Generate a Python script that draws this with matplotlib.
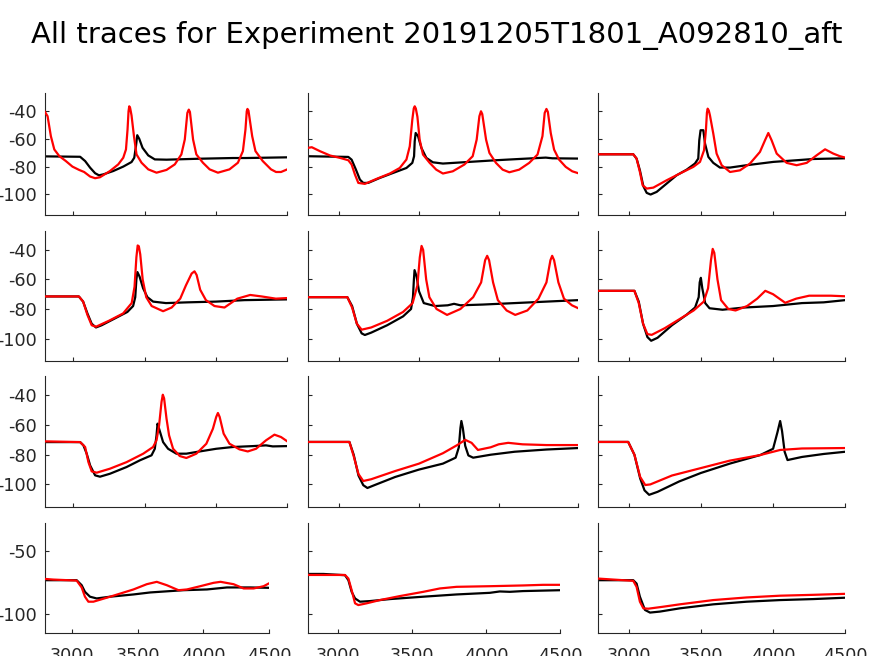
import matplotlib
matplotlib.use("Agg")
import matplotlib.pyplot as plt

plt.rcParams["axes.unicode_minus"] = False

title_text = "All traces for Experiment 20191205T1801_A092810_aft"

# ---- data: (time, voltage) pairs ----
exp_r1c1 = [(2800,-72.6),(3049,-72.9),(3084,-76),(3119,-80.8),(3154,-84.8),(3181,-86.3),(3212,-85.6),
            (3281,-83.2),(3351,-80),(3409,-76.7),(3428,-73.6),(3440,-65.2),(3449,-57.3),(3463,-59.9),
            (3486,-66.4),(3526,-71.9),(3572,-74.8),(3654,-75),(3886,-74.3),(4119,-73.8),(4212,-73.8),(4500,-73.3)]
mod_r1c1 = [(2800,-40),(2821,-43.6),(2844,-58),(2868,-67.6),(2903,-72.4),(2949,-76),(2995,-80),(3042,-82.4),
            (3077,-83.9),(3119,-87.2),(3154,-88.4),(3188,-87.7),(3258,-83.2),(3316,-78.4),(3351,-73.6),
            (3370,-67.6),(3381,-53.2),(3388,-40),(3393,-36.4),(3399,-37.5),(3409,-43),(3426,-58),(3444,-71.2),(3479,-77.2),
            (3526,-82),(3584,-84.4),(3654,-82.4),(3712,-78.4),(3758,-71.2),(3782,-60.4),(3800,-41.2),
            (3810,-38.8),(3818,-40.5),(3840,-60.4),(3863,-71.2),(3909,-77.2),(3956,-82),(4014,-84.4),
            (4095,-82),(4154,-77.2),(4189,-68.8),(4207,-53.2),(4216,-40),(4221,-38.3),(4228,-39.5),(4254,-58),
            (4277,-68.8),(4328,-76),(4386,-82),(4421,-83.9),(4456,-83.9),(4500,-82)]

exp_r1c2 = [(2800,-72.5),(3056,-73),(3077,-75),(3104,-82.2),(3129,-89.4),(3150,-91.8),(3181,-91.8),
            (3254,-88.2),(3337,-84.6),(3421,-81),(3458,-77.3),(3469,-72.5),(3473,-61.7),(3479,-55.7),
            (3494,-58),(3515,-66.5),(3546,-73.7),(3587,-76.9),(3650,-77.8),(3775,-76.9),(3983,-75.4),
            (4129,-74.5),(4296,-73.5),(4337,-74),(4500,-74.2)]
mod_r1c2 = [(2800,-66.5),(2827,-66),(2879,-68.9),(2942,-72),(3004,-73.7),(3056,-75.4),(3077,-78.5),
            (3098,-85.8),(3119,-91.8),(3160,-92.5),(3233,-88.9),(3317,-85),(3379,-81),(3421,-74.9),
            (3442,-65.3),(3458,-46),(3467,-38),(3473,-36.4),(3480,-38),(3490,-44),(3504,-60.5),(3525,-71.3),(3567,-77.3),
            (3608,-82.2),(3650,-85),(3712,-83.4),(3785,-78.5),(3837,-72.5),(3862,-60.5),(3879,-43.6),
            (3889,-40),(3897,-42),(3921,-60.5),(3942,-70.1),(3983,-77.3),(4025,-82.2),(4067,-84.1),
            (4129,-82.2),(4192,-77.3),(4244,-71.3),(4275,-58),(4289,-41.2),(4300,-38.3),(4309,-40.5),
            (4327,-55.7),(4348,-67.7),(4379,-74.9),(4421,-80.2),(4462,-83.4),(4500,-84.8)]

exp_r1c3 = [(2790,-71.1),(3032,-71.1),(3055,-74.2),(3078,-82.7),(3102,-94.2),(3125,-99),(3152,-100.2),
            (3194,-98.3),(3263,-92.3),(3332,-86.3),(3402,-82.2),(3459,-77.8),(3482,-74.2),(3489,-61),
            (3498,-53.7),(3517,-53.7),(3529,-63.4),(3552,-73),(3586,-77.3),(3632,-80.7),(3702,-80.7),
            (3817,-79),(4002,-76.6),(4163,-75.4),(4279,-74.5),(4500,-74)]
mod_r1c3 = [(2790,-71.1),(3032,-71.1),(3055,-74.2),(3078,-83.9),(3097,-93.5),(3125,-95.9),(3171,-95.2),
            (3263,-89.9),(3355,-85),(3448,-80.2),(3494,-76.6),(3522,-68.2),(3535,-53.7),(3542,-41),(3547,-38.1),
            (3555,-39.5),(3563,-43),(3586,-56.1),(3609,-70.6),(3644,-79),(3702,-83.9),(3771,-82.7),(3840,-77.8),
            (3909,-69.4),(3944,-61),(3967,-55.7),(3990,-61),(4025,-70.6),(4094,-77.3),(4163,-79),
            (4233,-77.3),(4302,-71.8),(4360,-67.5),(4417,-70.6),(4463,-72.5),(4500,-73.5)]

exp_r2c1 = [(2800,-71.5),(3040,-71.5),(3070,-75),(3100,-83),(3130,-90),(3160,-92.5),(3200,-91),
            (3300,-86),(3380,-82),(3420,-78),(3435,-72),(3443,-60),(3450,-55),(3465,-58),(3490,-66),
            (3520,-72),(3560,-75),(3650,-76),(3800,-75.5),(4000,-75),(4200,-74),(4500,-73.5)]
mod_r2c1 = [(2800,-71.5),(3040,-71.5),(3070,-75),(3100,-84),(3130,-91),(3160,-92),(3250,-88),
            (3350,-83),(3410,-76),(3430,-65),(3443,-45),(3452,-37),(3460,-37.5),(3470,-43),(3487,-60),
            (3512,-72),(3550,-78),(3630,-81.5),(3690,-79),(3750,-73),(3790,-64),(3830,-56),(3850,-54.5),
            (3865,-57),(3890,-67),(3930,-74),(3990,-78),(4060,-79),(4150,-73),(4240,-70.5),(4320,-71.5),
            (4420,-73),(4500,-72.6)]

exp_r2c2 = [(2800,-72),(3050,-72),(3080,-78),(3110,-90),(3140,-96.5),(3160,-97.6),(3200,-96),
            (3300,-91),(3400,-85),(3450,-80),(3462,-72),(3468,-60),(3472,-53.7),(3485,-58),(3500,-68),
            (3530,-76),(3600,-78),(3680,-77.5),(3720,-76.5),(3760,-77.5),(3900,-77),(4100,-76),
            (4300,-75),(4500,-74)]
mod_r2c2 = [(2800,-72),(3050,-72),(3080,-79),(3110,-90),(3140,-94),(3200,-92.5),(3300,-88),
            (3400,-82),(3460,-76),(3490,-64),(3505,-45),(3516,-37.3),(3526,-40),(3545,-60),(3565,-72),
            (3610,-80),(3676,-84),(3760,-80),(3840,-72),(3890,-62),(3915,-47),(3928,-44),(3940,-47),
            (3965,-62),(3995,-74),(4050,-81),(4104,-84),(4180,-81),(4250,-73),(4300,-62),(4325,-47),
            (4336,-44),(4348,-47),(4375,-62),(4410,-73),(4460,-77.5),(4500,-79.5)]

exp_r2c3 = [(2790,-67.7),(3040,-67.7),(3070,-75),(3100,-90),(3130,-99),(3156,-101.5),(3200,-99.5),
            (3300,-91),(3400,-84),(3460,-79),(3485,-72),(3492,-62),(3500,-58.9),(3510,-66),(3530,-76),
            (3560,-79.5),(3650,-80.5),(3800,-79),(4000,-78),(4200,-76),(4350,-75.5),(4500,-74)]
mod_r2c3 = [(2790,-67.7),(3040,-67.7),(3070,-76),(3100,-90),(3130,-97),(3160,-97.5),(3250,-93),
            (3350,-87),(3450,-81),(3520,-75),(3550,-66),(3570,-47),(3582,-39.3),(3593,-42),(3615,-60),
            (3640,-74),(3690,-80),(3740,-81),(3820,-78),(3890,-73),(3946,-67.7),(4000,-70),(4084,-75.8),
            (4160,-73),(4250,-71),(4400,-71),(4500,-71.4)]

exp_r3c1 = [(2800,-71.5),(3049,-71.5),(3072,-73.7),(3095,-79.3),(3119,-87.2),(3154,-93.9),(3188,-94.8),
            (3258,-92.8),(3374,-88.3),(3467,-83.8),(3549,-80.4),(3572,-76),(3584,-67),(3591,-59.1),
            (3602,-62.5),(3630,-71.5),(3665,-76),(3723,-79.3),(3793,-79.3),(3886,-77.8),(4002,-76),
            (4119,-74.8),(4258,-74.2),(4351,-73.7),(4398,-74.4),(4500,-74.2)]
mod_r3c1 = [(2800,-71),(3049,-71.5),(3084,-74.8),(3107,-85),(3130,-91.2),(3165,-92.1),(3258,-89.4),
            (3374,-85),(3491,-79.3),(3560,-74.8),(3584,-70.3),(3602,-60.2),(3619,-44.5),(3628,-39.6),
            (3637,-42),(3654,-55.7),(3672,-67),(3700,-76),(3747,-80.9),(3793,-82.2),(3863,-79.3),
            (3933,-72.6),(3979,-62.5),(4002,-54.6),(4014,-51.9),(4026,-54.5),(4054,-65.8),(4095,-72.6),
            (4165,-76.4),(4223,-77.8),(4281,-76),(4351,-70.3),(4410,-66.5),(4456,-68.1),(4500,-71)]

exp_r3c2 = [(2800,-71.4),(3063,-71.4),(3090,-80),(3120,-94),(3150,-100.5),(3176,-102.4),(3220,-100.5),
            (3350,-95),(3500,-90),(3650,-86),(3730,-82),(3750,-75),(3760,-62),(3766,-57.3),(3775,-62),
            (3790,-74),(3810,-80.5),(3840,-82),(3950,-80),(4100,-78),(4300,-76.5),(4500,-75.5)]
mod_r3c2 = [(2800,-71.4),(3063,-71.4),(3090,-81),(3120,-93),(3150,-97.7),(3200,-96.5),(3350,-91),
            (3500,-86),(3650,-79),(3740,-73.5),(3790,-70),(3830,-72),(3870,-76.8),(3950,-75),
            (4000,-73),(4060,-72),(4150,-73),(4300,-73.5),(4500,-73.5)]

exp_r3c3 = [(2790,-71.4),(2997,-71.4),(3040,-80),(3080,-96),(3110,-104),(3142,-107),(3200,-105),
            (3350,-98),(3500,-92.3),(3700,-86),(3912,-80.2),(4000,-76),(4030,-65),(4049,-57.3),
            (4062,-64),(4080,-78),(4100,-83.6),(4200,-81.5),(4350,-79.5),(4500,-78)]
mod_r3c3 = [(2790,-71.4),(2997,-71.4),(3040,-80),(3080,-95),(3115,-100.4),(3150,-100),(3300,-94),
            (3500,-89),(3700,-84),(3912,-80.2),(4049,-76.8),(4200,-75.8),(4500,-75.5)]

exp_r4c1 = [(2800,-73),(3038,-73),(3076,-77),(3101,-82.3),(3139,-86.2),(3190,-87.6),(3292,-86.2),
            (3469,-84.4),(3596,-82.8),(3849,-81),(4027,-80.4),(4179,-78.8),(4356,-78.8),(4500,-79.1)]
mod_r4c1 = [(2800,-72),(2861,-72.5),(3038,-73.3),(3076,-78.8),(3101,-86.2),(3127,-90.2),(3165,-90.2),
            (3292,-86.2),(3469,-80.4),(3570,-76.2),(3646,-74.3),(3722,-77),(3811,-81),(3875,-80.4),
            (3976,-77.8),(4077,-75.1),(4130,-74.3),(4229,-76.2),(4305,-79.6),(4381,-79.6),(4457,-77.8),
            (4500,-75.4)]

exp_r4c2 = [(2797,-68),(2899,-68),(3045,-69),(3068,-73),(3090,-82.3),(3113,-87.6),(3146,-90.2),
            (3214,-89.7),(3349,-88.1),(3574,-86.2),(3799,-84.4),(4024,-83.1),(4091,-82),(4159,-82.3),
            (4249,-81.7),(4500,-81)]
mod_r4c2 = [(2797,-68.8),(3045,-68.8),(3068,-71.7),(3090,-81),(3113,-91.5),(3135,-92.9),(3191,-91.5),
            (3281,-88.9),(3416,-85.7),(3574,-82.3),(3686,-79.6),(3799,-78.3),(4024,-77.8),(4249,-77.2),
            (4384,-76.7),(4500,-76.7)]

exp_r4c3 = [(2790,-73),(3032,-73),(3055,-75.7),(3078,-86.2),(3113,-96.8),(3148,-98.9),(3217,-98.1),
            (3355,-95.5),(3586,-92.3),(3817,-90.2),(4048,-88.9),(4279,-88.1),(4500,-87)]
mod_r4c3 = [(2790,-71.7),(2894,-72.5),(3032,-73.5),(3055,-78.3),(3078,-90.2),(3102,-95.5),(3136,-95.8),
            (3240,-94.2),(3355,-92.3),(3586,-88.9),(3817,-86.8),(4048,-85.4),(4279,-84.7),(4500,-83.9)]

exp_traces = [[exp_r1c1, exp_r1c2, exp_r1c3],
              [exp_r2c1, exp_r2c2, exp_r2c3],
              [exp_r3c1, exp_r3c2, exp_r3c3],
              [exp_r4c1, exp_r4c2, exp_r4c3]]
mod_traces = [[mod_r1c1, mod_r1c2, mod_r1c3],
              [mod_r2c1, mod_r2c2, mod_r2c3],
              [mod_r3c1, mod_r3c2, mod_r3c3],
              [mod_r4c1, mod_r4c2, mod_r4c3]]

x_ticks = [3000, 3500, 4000, 4500]
y_ticks_main = [-100, -80, -60, -40]
y_ticks_last = [-100, -50]

# ---- layout (pixel geometry of the reference) ----
W, H = 874, 656
col_left = [45.3, 308.3, 598.3]
col_width = [242, 270, 247]
col_width_last = [224, 252, 247]
row_box = [(93.3, 215.0), (230.7, 360.7), (376.0, 506.7), (522.7, 632.7)]
col_xmin = [2805, 2805, 2790]
col_xmin_last = [2800, 2797, 2790]
ylim = (-115, -27)

ink = "#262626"
fig = plt.figure(figsize=(W / 100, H / 100), dpi=100)
fig.text(0.5, 1 - 35 / H, title_text, ha="center", va="center", fontsize=21, color="black")

for r in range(4):
    top, bot = row_box[r]
    for c in range(3):
        w = col_width_last[c] if r == 3 else col_width[c]
        ax = fig.add_axes([col_left[c] / W, 1 - bot / H, w / W, (bot - top) / H])
        e = exp_traces[r][c]
        m = mod_traces[r][c]
        ax.plot([p[0] for p in e], [p[1] for p in e], color="black", lw=1.6, zorder=2)
        ax.plot([p[0] for p in m], [p[1] for p in m], color="#ff0000", lw=1.6, zorder=3)
        xmin = col_xmin_last[c] if r == 3 else col_xmin[c]
        ax.set_xlim(xmin, 4500)
        ax.set_ylim(*ylim)
        ax.set_xticks(x_ticks)
        ax.set_yticks(y_ticks_last if r == 3 else y_ticks_main)
        for s in ("top", "right"):
            ax.spines[s].set_visible(False)
        for s in ("left", "bottom"):
            ax.spines[s].set_color(ink)
            ax.spines[s].set_linewidth(0.8)
        ax.tick_params(direction="in", length=3, width=0.8, color=ink, labelcolor=ink,
                       labelsize=12.7, pad=6)
        ax.tick_params(axis="x", pad=10)
        if r != 3:
            ax.set_xticklabels([])
        if c != 0:
            ax.set_yticklabels([])

fig.savefig("out.png", dpi=100)
